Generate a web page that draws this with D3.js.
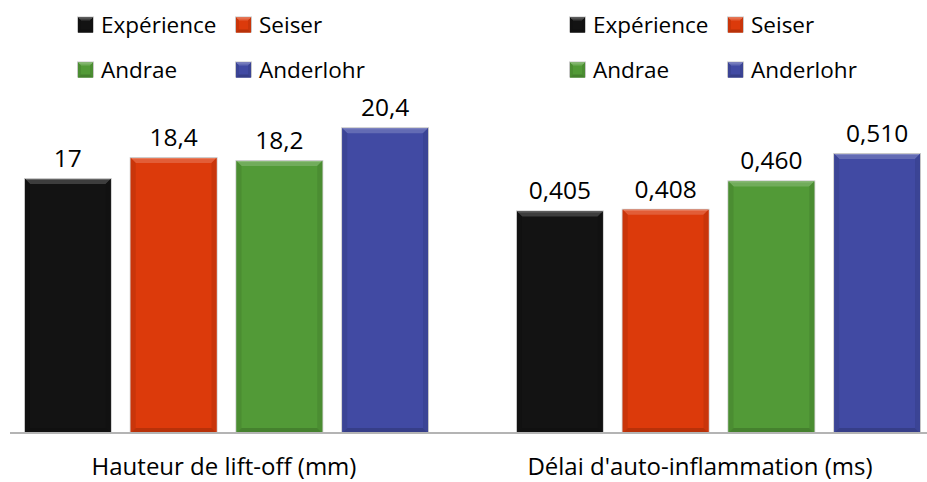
<!DOCTYPE html>
<html><head><meta charset="utf-8">
<script src="https://cdn.jsdelivr.net/npm/d3@7/dist/d3.min.js"></script>
<style>html,body{margin:0;padding:0;background:#fff;}svg{display:block;font-family:"Open Sans","Noto Sans",sans-serif;}</style>
</head><body>
<svg id="chart" width="927" height="482"></svg>
<script>
const categories = ["Hauteur de lift-off (mm)", "Délai d'auto-inflammation (ms)"];
const series = ["Expérience", "Seiser", "Andrae", "Anderlohr"];
const colors = ["#131313", "#dc3a0b", "#529a37", "#414aa3"];
const liftOffValues = [17, 18.4, 18.2, 20.4];
const delaiValues = [0.405, 0.408, 0.460, 0.510];
const liftOffLabels = ["17", "18,4", "18,2", "20,4"];
const delaiLabels = ["0,405", "0,408", "0,460", "0,510"];

const svg = d3.select("#chart");
const baseY = 433;

const panels = [
  {values: liftOffValues, labels: liftOffLabels, cat: categories[0], xr: [15, 438], ymax: 25, ytop: 59.5, legendX: 78, catX: 224},
  {values: delaiValues, labels: delaiLabels, cat: categories[1], xr: [507, 930], ymax: 0.7, ytop: 50.1, legendX: 570, catX: 700}
];

function bevelBar(g, x, y, w, h, c, b) {
  const col = d3.color(c);
  g.append("rect").attr("x", x - 1).attr("y", y - 1).attr("width", w + 2).attr("height", h + 1)
    .attr("fill", "#c8c8c8");
  g.append("rect").attr("x", x).attr("y", y).attr("width", w).attr("height", h).attr("fill", c);
  const top = d3.interpolateRgb(c, "#ffffff")(0.18);
  const side = col.darker(0.25).formatHex();
  const bot = col.darker(0.5).formatHex();
  const pts = a => a.map(p => p.join(",")).join(" ");
  g.append("polygon").attr("points", pts([[x, y], [x + w, y], [x + w - b, y + b], [x + b, y + b]])).attr("fill", top);
  g.append("polygon").attr("points", pts([[x, y], [x + b, y + b], [x + b, y + h - b], [x, y + h]])).attr("fill", side);
  g.append("polygon").attr("points", pts([[x + w, y], [x + w - b, y + b], [x + w - b, y + h - b], [x + w, y + h]])).attr("fill", side);
  g.append("polygon").attr("points", pts([[x, y + h], [x + b, y + h - b], [x + w - b, y + h - b], [x + w, y + h]])).attr("fill", bot);
  g.append("line").attr("x1", x + 1).attr("x2", x + w - 1).attr("y1", y + 0.5).attr("y2", y + 0.5)
    .attr("stroke", d3.interpolateRgb(c, "#ffffff")(0.35)).attr("stroke-width", 1);
}

panels.forEach(p => {
  const x = d3.scaleBand().domain(series).range(p.xr).paddingInner(0.189).paddingOuter(0.0945);
  const y = d3.scaleLinear().domain([0, p.ymax]).range([baseY, p.ytop]);
  const g = svg.append("g");
  series.forEach((s, i) => {
    const bx = x(s), by = y(p.values[i]), bw = x.bandwidth(), bh = baseY - by;
    bevelBar(g.append("g"), bx, by, bw, bh, colors[i], 5);
    g.append("text").attr("x", bx + bw / 2).attr("y", by - 12).attr("text-anchor", "middle")
      .attr("font-size", 24.5).attr("fill", "#000").text(p.labels[i]);
  });
  g.append("text").attr("x", p.catX).attr("y", 475).attr("text-anchor", "middle")
    .attr("font-size", 24).attr("fill", "#000").text(p.cat);
  // legend
  const lg = svg.append("g");
  const colOff = [0, 158];
  const rowY = [25, 70];
  series.forEach((s, i) => {
    const lx = p.legendX + colOff[i % 2], ly = rowY[Math.floor(i / 2)];
    bevelBar(lg.append("g"), lx, ly - 7.5, 15, 15, colors[i], 3);
    lg.append("text").attr("x", lx + 23).attr("y", ly + 8).attr("font-size", 22.5).attr("fill", "#000").text(s);
  });
});

svg.append("line").attr("x1", 10).attr("x2", 927).attr("y1", baseY).attr("y2", baseY)
  .attr("stroke", "#b4b4b4").attr("stroke-width", 2);
</script>
</body></html>
